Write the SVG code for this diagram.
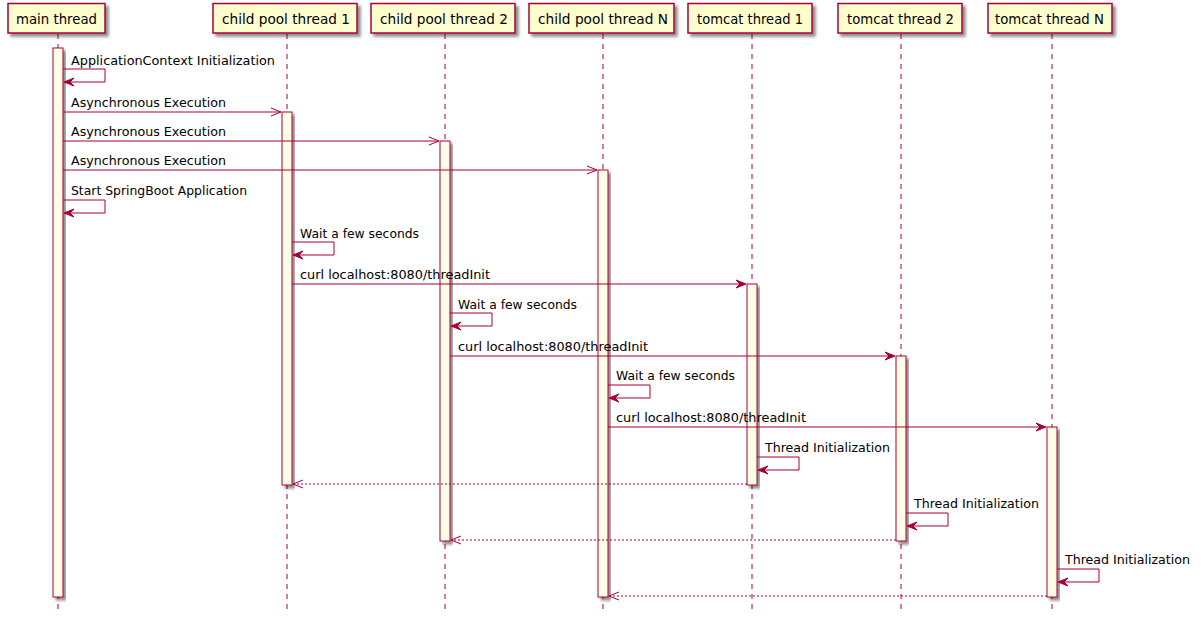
<svg xmlns="http://www.w3.org/2000/svg" width="1201" height="625" viewBox="0 0 1201 625">
<defs>
<filter id="sh" x="-20%" y="-20%" width="150%" height="150%">
<feGaussianBlur in="SourceAlpha" stdDeviation="1.7" result="b"/>
<feOffset dx="3" dy="3" in="b" result="o"/>
<feComponentTransfer in="o" result="o2"><feFuncA type="linear" slope="0.45"/></feComponentTransfer>
<feMerge><feMergeNode in="o2"/><feMergeNode in="SourceGraphic"/></feMerge>
</filter>
</defs>
<style>
.box{fill:#FEFECE;stroke:#A80036;stroke-width:1.5;filter:url(#sh)}
.act{fill:#FEFEE6;stroke:#A80036;stroke-width:1;filter:url(#sh)}
.life{stroke:#A80036;stroke-width:1;stroke-dasharray:5,5;fill:none}
.msg{stroke:#A80036;stroke-width:1;fill:none}
.ret{stroke:#A80036;stroke-width:1;stroke-dasharray:2,2;fill:none}
.head{fill:#A80036;stroke:#A80036;stroke-width:1}
.pt{font-family:"DejaVu Sans","Noto Sans",sans-serif;font-size:14px;fill:#000}
.mt{font-family:"DejaVu Sans","Noto Sans",sans-serif;font-size:13px;fill:#000}
</style>
<rect width="1201" height="625" fill="#FFFFFF"/>

<g id="lifelines">
<line class="life" x1="58" y1="34" x2="58" y2="614"/>
<line class="life" x1="287" y1="34" x2="287" y2="614"/>
<line class="life" x1="445" y1="34" x2="445" y2="614"/>
<line class="life" x1="603" y1="34" x2="603" y2="614"/>
<line class="life" x1="752" y1="34" x2="752" y2="614"/>
<line class="life" x1="901" y1="34" x2="901" y2="614"/>
<line class="life" x1="1052" y1="34" x2="1052" y2="614"/>
</g>

<g id="main-thread">
<rect class="box" x="8" y="3.5" width="97" height="29.5"/>
<text class="pt" x="16" y="24" textLength="81" lengthAdjust="spacingAndGlyphs">main thread</text>
<rect class="act" x="53" y="48" width="10" height="549"/>
</g>
<g id="child-pool-thread-1">
<rect class="box" x="213" y="3.5" width="144" height="29.5"/>
<text class="pt" x="222" y="24" textLength="128" lengthAdjust="spacingAndGlyphs">child pool thread 1</text>
<rect class="act" x="282" y="112" width="10" height="373"/>
</g>
<g id="child-pool-thread-2">
<rect class="box" x="371" y="3.5" width="144" height="29.5"/>
<text class="pt" x="380" y="24" textLength="128" lengthAdjust="spacingAndGlyphs">child pool thread 2</text>
<rect class="act" x="440" y="141" width="10" height="400"/>
</g>
<g id="child-pool-thread-N">
<rect class="box" x="529" y="3.5" width="145" height="29.5"/>
<text class="pt" x="538" y="24" textLength="130" lengthAdjust="spacingAndGlyphs">child pool thread N</text>
<rect class="act" x="598" y="170" width="10" height="427"/>
</g>
<g id="tomcat-thread-1">
<rect class="box" x="688" y="3.5" width="124" height="29.5"/>
<text class="pt" x="697" y="24" textLength="106" lengthAdjust="spacingAndGlyphs">tomcat thread 1</text>
<rect class="act" x="747" y="284" width="10" height="201"/>
</g>
<g id="tomcat-thread-2">
<rect class="box" x="838" y="3.5" width="124" height="29.5"/>
<text class="pt" x="847" y="24" textLength="107" lengthAdjust="spacingAndGlyphs">tomcat thread 2</text>
<rect class="act" x="896" y="356" width="10" height="185"/>
</g>
<g id="tomcat-thread-N">
<rect class="box" x="988" y="3.5" width="124" height="29.5"/>
<text class="pt" x="995" y="24" textLength="109" lengthAdjust="spacingAndGlyphs">tomcat thread N</text>
<rect class="act" x="1047" y="427" width="10" height="170"/>
</g>

<g id="connectors">
<polyline class="msg" points="63,69 105,69 105,82 64,82"/>
<polygon class="head" points="74,78 64,82 74,86 70,82"/>
<text class="mt" x="71" y="65" textLength="204" lengthAdjust="spacingAndGlyphs">ApplicationContext Initialization</text>
<line class="msg" x1="63" y1="112" x2="281" y2="112"/>
<polyline class="msg" points="271,108 281,112 271,116"/>
<text class="mt" x="71" y="107" textLength="155" lengthAdjust="spacingAndGlyphs">Asynchronous Execution</text>
<line class="msg" x1="63" y1="141" x2="439" y2="141"/>
<polyline class="msg" points="429,137 439,141 429,145"/>
<text class="mt" x="71" y="136" textLength="155" lengthAdjust="spacingAndGlyphs">Asynchronous Execution</text>
<line class="msg" x1="63" y1="170" x2="597" y2="170"/>
<polyline class="msg" points="587,166 597,170 587,174"/>
<text class="mt" x="71" y="165" textLength="155" lengthAdjust="spacingAndGlyphs">Asynchronous Execution</text>
<polyline class="msg" points="63,200 105,200 105,213 64,213"/>
<polygon class="head" points="74,209 64,213 74,217 70,213"/>
<text class="mt" x="71" y="195" textLength="176" lengthAdjust="spacingAndGlyphs">Start SpringBoot Application</text>
<polyline class="msg" points="292,242 334,242 334,255 293,255"/>
<polygon class="head" points="303,251 293,255 303,259 299,255"/>
<text class="mt" x="300" y="237.5" textLength="119" lengthAdjust="spacingAndGlyphs">Wait a few seconds</text>
<line class="msg" x1="292" y1="284" x2="745" y2="284"/>
<polygon class="head" points="736,280 746,284 736,288 740,284"/>
<text class="mt" x="300" y="279" textLength="190" lengthAdjust="spacingAndGlyphs">curl localhost:8080/threadInit</text>
<polyline class="msg" points="450,313 492,313 492,326 451,326"/>
<polygon class="head" points="461,322 451,326 461,330 457,326"/>
<text class="mt" x="458" y="308.5" textLength="119" lengthAdjust="spacingAndGlyphs">Wait a few seconds</text>
<line class="msg" x1="450" y1="356" x2="894" y2="356"/>
<polygon class="head" points="885,352 895,356 885,360 889,356"/>
<text class="mt" x="458" y="351" textLength="190" lengthAdjust="spacingAndGlyphs">curl localhost:8080/threadInit</text>
<polyline class="msg" points="608,385 650,385 650,398 609,398"/>
<polygon class="head" points="619,394 609,398 619,402 615,398"/>
<text class="mt" x="616" y="380" textLength="119" lengthAdjust="spacingAndGlyphs">Wait a few seconds</text>
<line class="msg" x1="608" y1="427" x2="1045" y2="427"/>
<polygon class="head" points="1036,423 1046,427 1036,431 1040,427"/>
<text class="mt" x="616" y="422" textLength="190" lengthAdjust="spacingAndGlyphs">curl localhost:8080/threadInit</text>
<polyline class="msg" points="757,457 799,457 799,470 758,470"/>
<polygon class="head" points="768,466 758,470 768,474 764,470"/>
<text class="mt" x="765" y="452" textLength="125" lengthAdjust="spacingAndGlyphs">Thread Initialization</text>
<line class="ret" x1="747" y1="484" x2="293" y2="484"/>
<polyline class="msg" points="303,480 293,484 303,488"/>
<polyline class="msg" points="906,513 948,513 948,526 907,526"/>
<polygon class="head" points="917,522 907,526 917,530 913,526"/>
<text class="mt" x="914" y="508" textLength="125" lengthAdjust="spacingAndGlyphs">Thread Initialization</text>
<line class="ret" x1="896" y1="540" x2="451" y2="540"/>
<polyline class="msg" points="461,536 451,540 461,544"/>
<polyline class="msg" points="1057,569 1099,569 1099,582 1058,582"/>
<polygon class="head" points="1068,578 1058,582 1068,586 1064,582"/>
<text class="mt" x="1065" y="564" textLength="125" lengthAdjust="spacingAndGlyphs">Thread Initialization</text>
<line class="ret" x1="1047" y1="596" x2="609" y2="596"/>
<polyline class="msg" points="619,592 609,596 619,600"/>
</g>
</svg>
